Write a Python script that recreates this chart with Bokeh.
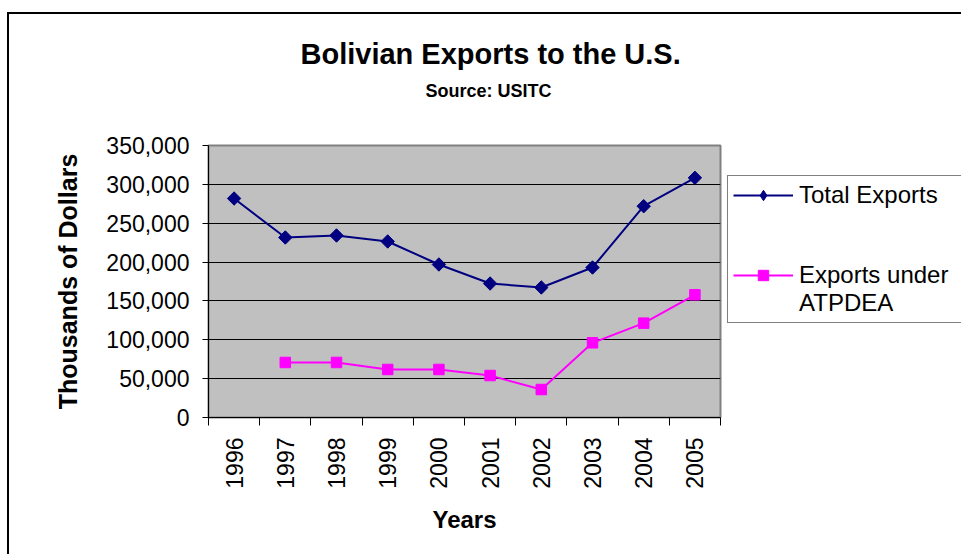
import math
from bokeh.plotting import figure
from bokeh.models import (Range1d, FixedTicker, NumeralTickFormatter, Legend,
                          LegendItem, Title, ColumnDataSource)
from bokeh.embed import file_html
from bokeh.resources import INLINE

years = ["1996", "1997", "1998", "1999", "2000", "2001", "2002", "2003", "2004", "2005"]
total_exports = [281800, 231600, 234200, 226500, 196900, 172400, 167300, 193000, 271900, 308400]
atpdea_years = ["1997", "1998", "1999", "2000", "2001", "2002", "2003", "2004", "2005"]
atpdea_exports = [70800, 70800, 61800, 61800, 54000, 36000, 96100, 121400, 157900]
y_ticks = [0, 50000, 100000, 150000, 200000, 250000, 300000, 350000]

FONT = "Liberation Sans"

xpos = {y: i + 0.5 for i, y in enumerate(years)}
src_total = ColumnDataSource(dict(x=[xpos[y] for y in years], y=total_exports))
src_atp = ColumnDataSource(dict(x=[xpos[y] for y in atpdea_years], y=atpdea_exports))
empty = ColumnDataSource(dict(x=[], y=[]))

p = figure(frame_width=512, frame_height=272, output_backend="svg", toolbar_location=None,
           x_range=Range1d(0, len(years)), y_range=Range1d(0, y_ticks[-1]),
           min_border_left=208, min_border_right=241, min_border_top=145, min_border_bottom=137)
p.background_fill_color = "#C0C0C0"
p.border_fill_alpha = 0
p.outline_line_color = "#808080"
p.outline_line_width = 2
# outer chart border (left and top edges visible, rest falls outside the window)
p.styles = {"background": "linear-gradient(#000,#000) 7px 12px / 2px 600px no-repeat, "
                          "linear-gradient(#000,#000) 7px 12px / 1000px 2px no-repeat, #fff"}

# titles: main title outermost; blank spacer added first sits next to the frame
p.title.text = "Bolivian Exports to the U.S."
p.title.align = "left"
p.title.offset = 92
p.title.text_font = FONT
p.title.text_font_size = "29px"
p.title.text_font_style = "bold"
p.title.text_color = "black"
p.title.standoff = 14
p.add_layout(Title(text=" ", text_font_size="10px", standoff=30), "above")
p.add_layout(Title(text="Source: USITC", align="left", offset=217,
                   text_font=FONT, text_font_size="18px", text_font_style="bold",
                   text_color="black", standoff=4), "above")

# y axis
p.yaxis.ticker = FixedTicker(ticks=y_ticks)
p.yaxis.formatter = NumeralTickFormatter(format="0,0")
p.yaxis.major_tick_out = 6
p.yaxis.major_tick_in = 0
p.yaxis.minor_tick_line_color = None
p.yaxis.major_label_text_font = FONT
p.yaxis.major_label_text_font_size = "23px"
p.yaxis.major_label_text_color = "black"
p.yaxis.major_label_standoff = 13
p.yaxis.axis_line_color = "black"
p.yaxis.axis_label = "Thousands of Dollars"
p.yaxis.axis_label_text_font = FONT
p.yaxis.axis_label_text_font_size = "25px"
p.yaxis.axis_label_text_font_style = "bold"
p.yaxis.axis_label_text_color = "black"
p.yaxis.axis_label_standoff = 21

# x axis: labels at category centers, tick marks at boundaries
p.xaxis.ticker = FixedTicker(ticks=[xpos[y] for y in years],
                             minor_ticks=list(range(len(years) + 1)))
p.xaxis.major_label_overrides = {xpos[y]: y for y in years}
p.xaxis.major_tick_line_color = None
p.xaxis.major_tick_out = 0
p.xaxis.major_tick_in = 0
p.xaxis.minor_tick_out = 8
p.xaxis.minor_tick_in = 0
p.xaxis.minor_tick_line_color = "black"
p.xaxis.major_label_orientation = math.pi / 2
p.xaxis.major_label_text_font = FONT
p.xaxis.major_label_text_font_size = "23px"
p.xaxis.major_label_text_color = "black"
p.xaxis.major_label_standoff = 12
p.xaxis.axis_line_color = "black"
p.xaxis.axis_label = "Years"
p.xaxis.axis_label_text_font = FONT
p.xaxis.axis_label_text_font_size = "24px"
p.xaxis.axis_label_text_font_style = "bold"
p.xaxis.axis_label_text_color = "black"
p.xaxis.axis_label_standoff = 14

p.xgrid.grid_line_color = None
p.ygrid.ticker = FixedTicker(ticks=y_ticks[1:-1])
p.ygrid.grid_line_color = "black"
p.ygrid.grid_line_width = 1

# series
l1 = p.line("x", "y", source=src_total, line_color="#000080", line_width=2)
# narrow diamond used as the legend key; hidden under the rotated squares in the plot
diamond_key = p.scatter("x", "y", source=src_total, marker="diamond", size=12,
                        fill_color="#000080", line_color="#000080")
m1 = p.scatter("x", "y", source=src_total, marker="square", angle=math.pi / 4, size=9.5,
               fill_color="#000080", line_color="#000080")
l2 = p.line("x", "y", source=src_atp, line_color="#FF00FF", line_width=2)
m2 = p.scatter("x", "y", source=src_atp, marker="square", size=10.5,
               fill_color="#FF00FF", line_color="#FF00FF")
dummy = p.line("x", "y", source=empty, line_alpha=0)

legend = Legend(items=[LegendItem(label="Total Exports", renderers=[l1, diamond_key]),
                       LegendItem(label=" ", renderers=[dummy]),
                       LegendItem(label="  ", renderers=[dummy]),
                       LegendItem(label="Exports under", renderers=[l2, m2]),
                       LegendItem(label="ATPDEA", renderers=[dummy])],
                location=(7, 94), orientation="vertical",
                border_line_color="black", border_line_width=1,
                background_fill_color="white", background_fill_alpha=1,
                padding=5, margin=0, spacing=0, glyph_width=60, glyph_height=26,
                label_height=26, label_width=158, label_standoff=6,
                label_text_font=FONT, label_text_font_size="24px",
                label_text_color="black")
p.add_layout(legend, "right")

open("out.html", "w").write(file_html(p, INLINE))
